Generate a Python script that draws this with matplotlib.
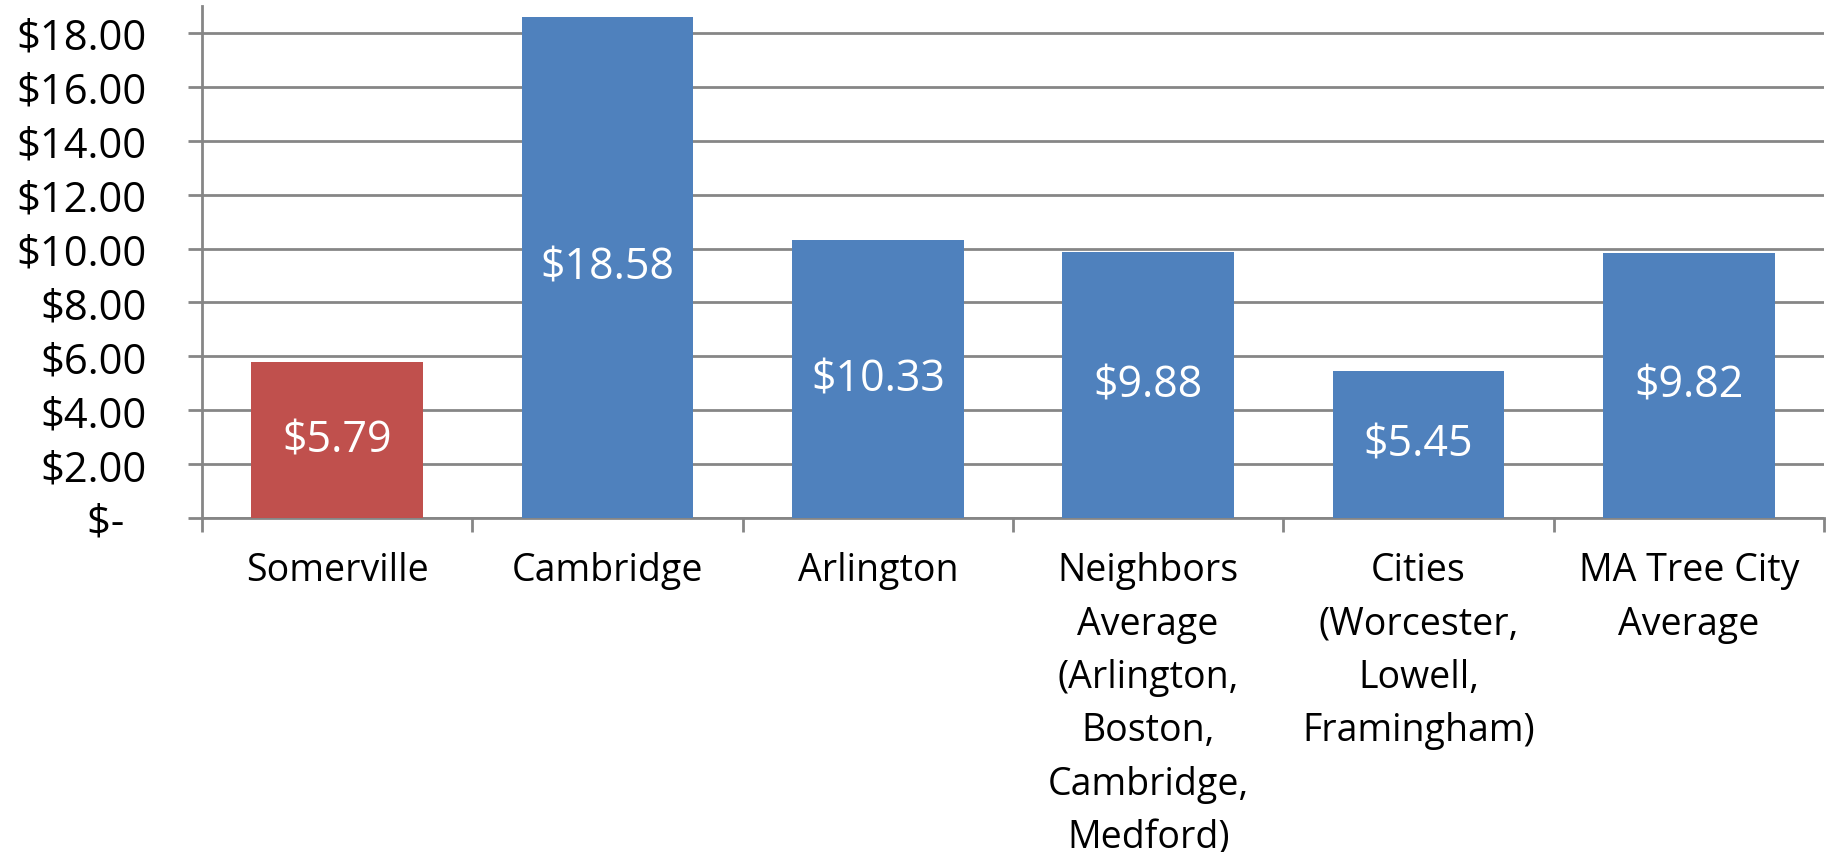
import matplotlib.pyplot as plt
from matplotlib.ticker import FixedLocator

categories = ["Somerville", "Cambridge", "Arlington",
              "Neighbors\nAverage\n(Arlington,\nBoston,\nCambridge,\nMedford)",
              "Cities\n(Worcester,\nLowell,\nFramingham)",
              "MA Tree City\nAverage"]
values = [5.79, 18.58, 10.33, 9.88, 5.45, 9.82]
bar_colors = ["#C0504D", "#4F81BD", "#4F81BD", "#4F81BD", "#4F81BD", "#4F81BD"]
y_ticks = [0, 2, 4, 6, 8, 10, 12, 14, 16, 18]
y_labels = ["$-  ", "$2.00", "$4.00", "$6.00", "$8.00", "$10.00",
            "$12.00", "$14.00", "$16.00", "$18.00"]

plt.rcParams["font.family"] = ["Open Sans", "DejaVu Sans"]
grey = "#868686"

fig = plt.figure(figsize=(18.3, 8.53), dpi=100)
ax = fig.add_axes([0.1104, 0.3916, 0.8863, 0.6002])

x = list(range(len(categories)))
bars = ax.bar(x, values, width=0.636, color=bar_colors, zorder=3)

for rect, v in zip(bars, values):
    ax.text(rect.get_x() + rect.get_width() / 2, v / 2, f"${v:.2f}",
            ha="center", va="center", color="white", fontsize=31, zorder=4)

ax.set_xlim(-0.5, len(categories) - 0.5)
ax.set_ylim(0, 19)

ax.set_yticks(y_ticks)
ax.set_yticklabels(y_labels, fontsize=30)
ax.tick_params(axis="y", length=10, width=2, color=grey, pad=30)
ax.yaxis.grid(True, color=grey, linewidth=2, zorder=0)

ax.set_xticks(x)
ax.set_xticklabels(categories, fontsize=27, linespacing=1.53, va="top")
ax.tick_params(axis="x", which="major", length=0, pad=24)
ax.xaxis.set_minor_locator(FixedLocator([i - 0.5 for i in range(len(categories) + 1)]))
ax.tick_params(axis="x", which="minor", length=10, width=2, color=grey)

for s in ["top", "right"]:
    ax.spines[s].set_visible(False)
for s in ["left", "bottom"]:
    ax.spines[s].set_color(grey)
    ax.spines[s].set_linewidth(2)

fig.savefig("out.png", dpi=100)
